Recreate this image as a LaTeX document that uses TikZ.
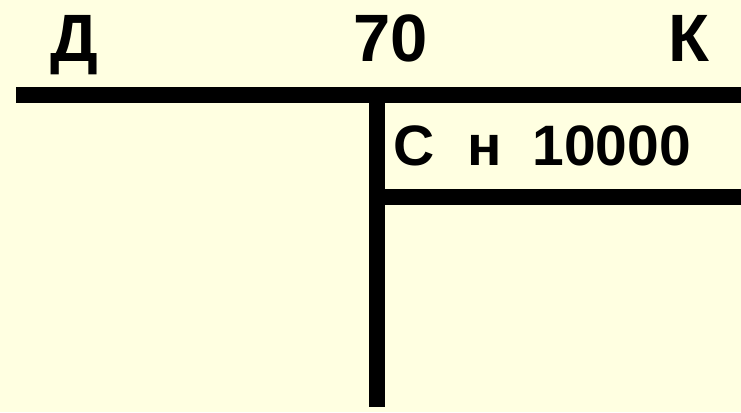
\documentclass[tikz,border=0pt]{standalone}
\usepackage{fontspec}
\setmainfont{Liberation Sans}
\definecolor{paper}{RGB}{255,255,225}
\tikzset{
  head/.style={inner sep=0pt, anchor=base, font=\fontsize{67}{67}\selectfont\bfseries},
  entry/.style={inner sep=0pt, anchor=base west, font=\fontsize{57}{57}\selectfont\bfseries},
  rule/.style={line width=16pt}
}
\begin{document}
\begin{tikzpicture}[x=1pt, y=-1pt]
        \fill[paper] (0, 0) rectangle (741, 412);
        \useasboundingbox (0, 0) rectangle (741, 412);

        % Heading of the account
        \node[head] (debit) at (74.5, 62) {Д};
        \node[head] (acct) at (390.5, 62) {70};
        \node[head] (credit) at (688.5, 62) {К};

        % The T
        \coordinate (tl) at (16, 95);
        \coordinate (tr) at (741, 95);
        \coordinate (vt) at (376.5, 87);
        \coordinate (vb) at (376.5, 407);
        \coordinate (ml) at (376.5, 196.5);
        \coordinate (mr) at (741, 196.5);

        \draw[rule] (tl) -- (tr);
        \draw[rule] (vt) -- (vb);
        \draw[rule] (ml) -- (mr);

        % Opening balance
        \node[entry] (opening) at (393, 165) {С\hspace{17pt} н\hspace{15pt} 10000};
    \end{tikzpicture}
\end{document}
